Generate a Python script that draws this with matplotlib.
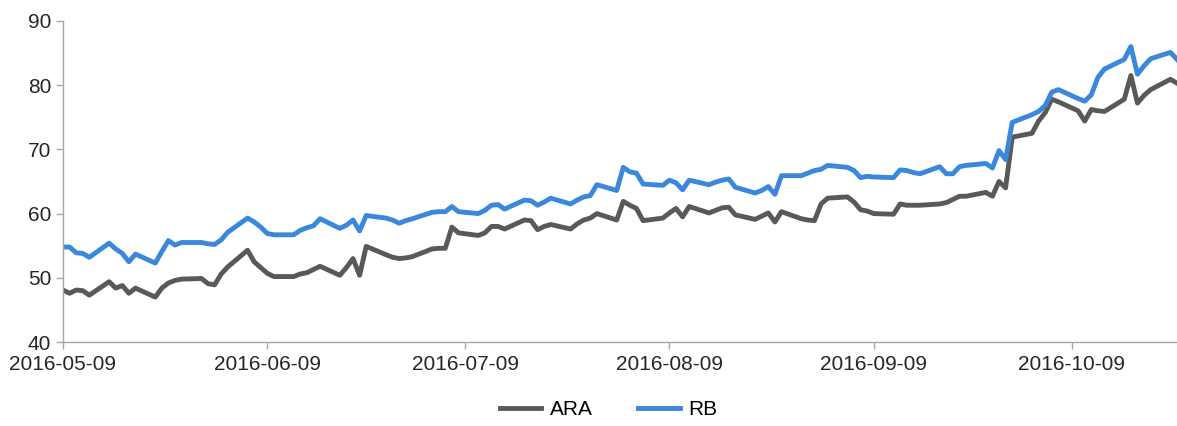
import pandas as pd
import matplotlib
matplotlib.use("Agg")
import matplotlib.pyplot as plt
import matplotlib.dates as mdates

plt.rcParams['font.family'] = ['Liberation Sans', 'DejaVu Sans']

# trading days 2016-05-09 .. 2016-10-25
dates = pd.bdate_range('2016-05-09', '2016-10-25')

ara = [48.1, 47.6, 48.1, 48.0, 47.3,
       49.4, 48.4, 48.8, 47.6, 48.4,
       47.0, 48.4, 49.2, 49.6, 49.8,
       49.9, 49.1, 48.9, 50.6, 51.7,
       54.3, 52.5, 51.6, 50.7, 50.2,
       50.2, 50.6, 50.8, 51.3, 51.8,
       50.4, 51.6, 53.0, 50.4, 54.9,
       53.6, 53.2, 53.0, 53.1, 53.3,
       54.5, 54.6, 54.6, 57.9, 57.0,
       56.6, 57.0, 58.0, 58.0, 57.6,
       59.0, 58.9, 57.5, 58.0, 58.3,
       57.6, 58.4, 59.0, 59.3, 60.0,
       59.0, 61.9, 61.3, 60.8, 58.9,
       59.3, 60.1, 60.8, 59.5, 61.1,
       60.1, 60.5, 60.9, 61.0, 59.8,
       59.1, 59.6, 60.1, 58.7, 60.3,
       59.2, 59.0, 58.9, 61.5, 62.4,
       62.6, 61.8, 60.6, 60.4, 60.0,
       59.9, 61.5, 61.3, 61.3, 61.3,
       61.5, 61.7, 62.2, 62.7, 62.7,
       63.3, 62.7, 65.0, 64.0, 71.9,
       72.5, 74.4, 75.7, 77.8, 77.4,
       76.0, 74.4, 76.2, 76.0, 75.9,
       77.8, 81.5, 77.2, 78.4, 79.3,
       80.9, 80.3]

rb = [54.8, 54.8, 53.9, 53.8, 53.2,
      55.4, 54.5, 53.8, 52.5, 53.7,
      52.3, 54.1, 55.8, 55.1, 55.5,
      55.5, 55.3, 55.2, 55.9, 57.1,
      59.3, 58.7, 57.9, 56.9, 56.7,
      56.7, 57.4, 57.8, 58.1, 59.2,
      57.7, 58.2, 59.0, 57.3, 59.7,
      59.3, 59.0, 58.5, 58.9, 59.2,
      60.2, 60.3, 60.3, 61.1, 60.3,
      60.0, 60.5, 61.3, 61.4, 60.7,
      62.1, 62.0, 61.3, 61.8, 62.4,
      61.5, 62.1, 62.6, 62.8, 64.5,
      63.6, 67.2, 66.5, 66.3, 64.6,
      64.4, 65.2, 64.8, 63.7, 65.2,
      64.5, 64.9, 65.2, 65.4, 64.1,
      63.2, 63.6, 64.2, 63.0, 65.9,
      65.9, 66.3, 66.7, 66.9, 67.5,
      67.2, 66.7, 65.6, 65.8, 65.7,
      65.6, 66.8, 66.7, 66.4, 66.2,
      67.3, 66.2, 66.2, 67.3, 67.5,
      67.8, 67.1, 69.8, 68.4, 74.2,
      75.4, 75.9, 76.8, 78.9, 79.3,
      77.9, 77.5, 78.5, 81.2, 82.5,
      84.0, 86.0, 81.7, 83.0, 84.1,
      85.1, 84.0]

fig = plt.figure(figsize=(11.77, 4.26), dpi=100)
ax = fig.add_axes([0.0535, 0.197, 0.9465, 0.754])

ax.plot(dates, ara, color='#595959', lw=3.5, label='ARA')
ax.plot(dates, rb, color='#3a87dc', lw=3.5, label='RB')

ax.set_ylim(40, 90)
ax.set_yticks(range(40, 91, 10))
ax.set_xlim(dates[0], dates[-1])
ax.xaxis.set_major_locator(mdates.MonthLocator(bymonthday=9))
ax.xaxis.set_major_formatter(mdates.DateFormatter('%Y-%m-%d'))

for s in ['top', 'right']:
    ax.spines[s].set_visible(False)
for s in ['left', 'bottom']:
    ax.spines[s].set_color('#a6a6a6')
    ax.spines[s].set_linewidth(1)
ax.tick_params(axis='both', colors='#a6a6a6', labelcolor='#262626',
               labelsize=15, length=5, width=1)
ax.tick_params(axis='x', pad=4)

fig.legend(loc='center', bbox_to_anchor=(0.517, 0.038), ncol=2, frameon=False,
           fontsize=15, handlelength=2.0, columnspacing=2.2, handletextpad=0.4)

fig.savefig('out.png')
